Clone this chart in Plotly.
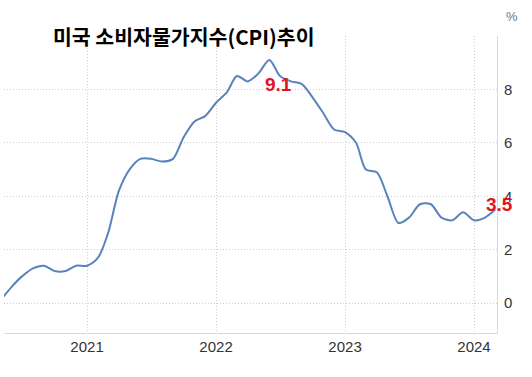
import plotly.graph_objects as go

# Monthly US CPI YoY (%), May 2020 - Mar 2024
months = [
    "2020-05", "2020-06", "2020-07", "2020-08", "2020-09", "2020-10", "2020-11", "2020-12",
    "2021-01", "2021-02", "2021-03", "2021-04", "2021-05", "2021-06", "2021-07", "2021-08",
    "2021-09", "2021-10", "2021-11", "2021-12",
    "2022-01", "2022-02", "2022-03", "2022-04", "2022-05", "2022-06", "2022-07", "2022-08",
    "2022-09", "2022-10", "2022-11", "2022-12",
    "2023-01", "2023-02", "2023-03", "2023-04", "2023-05", "2023-06", "2023-07", "2023-08",
    "2023-09", "2023-10", "2023-11", "2023-12",
    "2024-01", "2024-02", "2024-03",
]
cpi = [
    0.1, 0.6, 1.0, 1.3, 1.4, 1.2, 1.2, 1.4,
    1.4, 1.7, 2.6, 4.2, 5.0, 5.4, 5.4, 5.3, 5.4, 6.2, 6.8, 7.0,
    7.5, 7.9, 8.5, 8.3, 8.6, 9.1, 8.5, 8.3, 8.2, 7.7, 7.1, 6.5,
    6.4, 6.0, 5.0, 4.9, 4.0, 3.0, 3.2, 3.7, 3.7, 3.2, 3.1, 3.4,
    3.1, 3.2, 3.5,
]
year_ticks = ["2021-01-01", "2022-01-01", "2023-01-01", "2024-01-01"]
year_labels = ["2021", "2022", "2023", "2024"]
y_ticks = [0, 2, 4, 6, 8, 10]
y_labels = ["0", "2", "4", "6", "8", ""]
title_text = "미국 소비자물가지수(CPI)추이"
peak_label = ("2022-06-01", 9.1, "9.1")
last_label = ("2024-03-01", 3.5, "3.5")

dates = [m + "-01" for m in months]

fig = go.Figure()
fig.add_trace(go.Scatter(
    x=dates, y=cpi, mode="lines",
    line=dict(color="#5984bb", width=2, shape="spline", smoothing=0.8),
    hoverinfo="skip", showlegend=False,
))

grid_dash = "1px,2px"
fig.update_layout(
    width=532, height=377,
    margin=dict(l=4, r=35, t=36, b=44),
    paper_bgcolor="white", plot_bgcolor="white",
    font=dict(family="Liberation Sans, Arial, sans-serif", color="#333"),
    xaxis=dict(
        type="date",
        range=["2020-05-11", "2024-03-06"],
        tickvals=year_ticks, ticktext=year_labels,
        showgrid=True, gridcolor="#cfcfcf", griddash=grid_dash, gridwidth=1,
        showline=True, linecolor="#d9d9d9", linewidth=1,
        ticks="", tickfont=dict(size=15, color="#333"),
        zeroline=False,
    ),
    yaxis=dict(
        side="right",
        range=[-1.12, 10],
        tickvals=y_ticks, ticktext=y_labels,
        showgrid=True, gridcolor="#cfcfcf", griddash=grid_dash, gridwidth=1,
        showline=True, linecolor="#d9d9d9", linewidth=1,
        ticks="", ticklabelstandoff=3, tickfont=dict(size=15, color="#333"),
        zeroline=False,
    ),
)

fig.add_annotation(
    xref="paper", yref="paper", x=0.095, y=1.0, yshift=0,
    text=f"<b>{title_text}</b>", showarrow=False,
    xanchor="left", yanchor="middle",
    font=dict(family="Noto Sans CJK KR", size=20.5, color="#000"),
)
fig.add_annotation(
    x=peak_label[0], y=peak_label[1], text=f"<b>{peak_label[2]}</b>",
    showarrow=False, xanchor="center", yanchor="middle",
    xshift=9, yshift=-24,
    font=dict(family="Liberation Sans, Arial", size=19, color="#e0141e"),
)
fig.add_annotation(
    x=last_label[0], y=last_label[1], text=f"<b>{last_label[2]}</b>",
    showarrow=False, xanchor="center", yanchor="middle",
    xshift=4, yshift=5,
    font=dict(family="Liberation Sans, Arial", size=19, color="#e0141e"),
)
fig.add_annotation(
    xref="paper", yref="paper", x=1.0, y=1.0, xshift=15, yshift=20,
    text="%", showarrow=False, xanchor="center", yanchor="middle",
    font=dict(size=13, color="#777"),
)

fig.write_html(
    "out.html",
    config={"displayModeBar": False},
    post_script="document.body.style.margin='0';",
)
